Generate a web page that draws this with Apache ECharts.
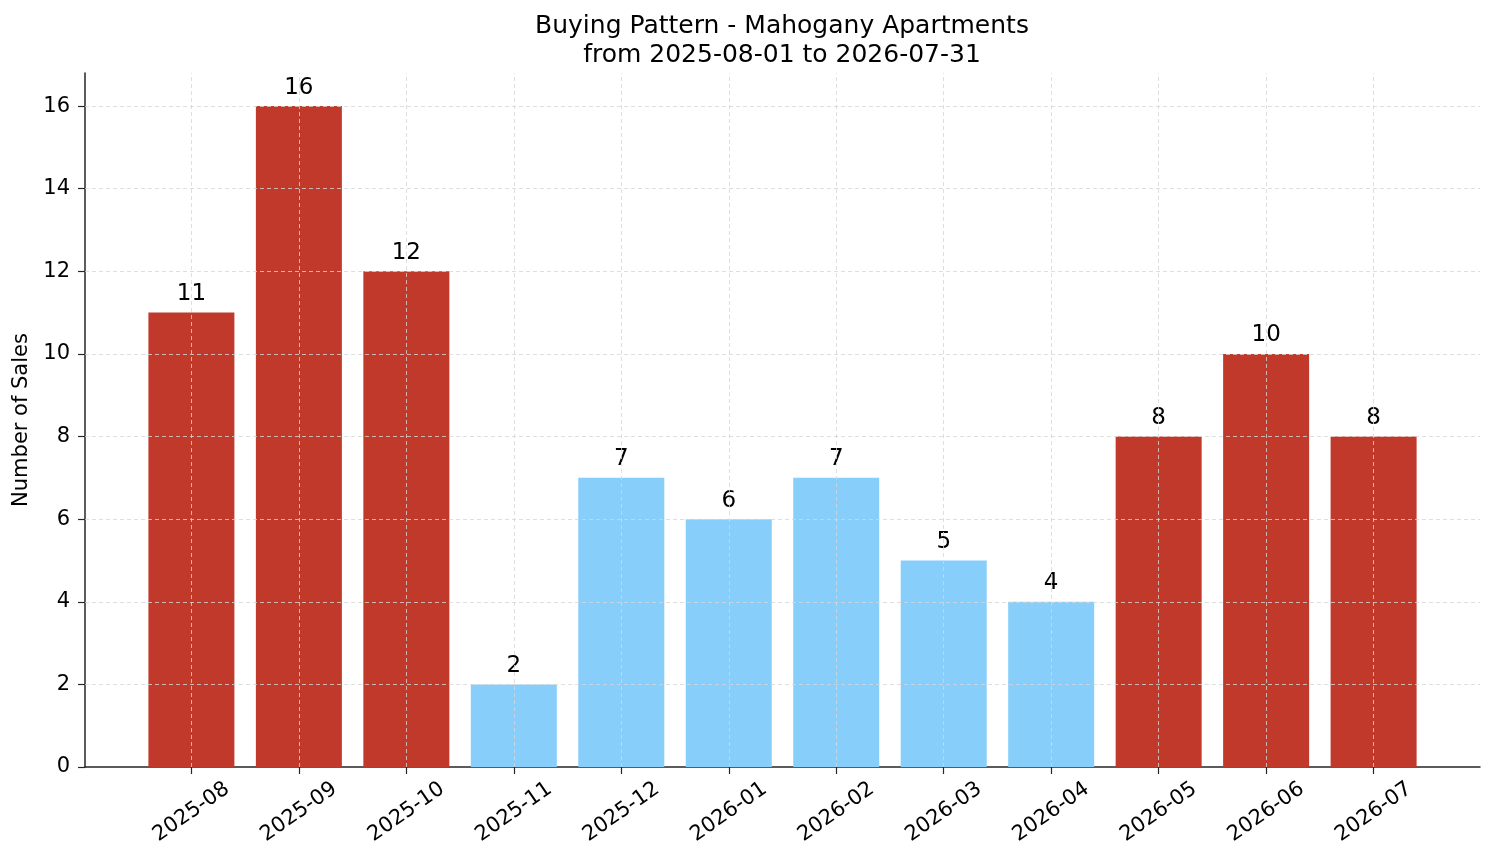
<!DOCTYPE html>
<html>
<head>
<meta charset="utf-8">
<script src="https://cdn.jsdelivr.net/npm/echarts@6/dist/echarts.min.js"></script>
<style>
  html, body { margin: 0; padding: 0; background: #fff; }
  #main { width: 1494px; height: 863px; }
</style>
</head>
<body>
<div id="main"></div>
<script>
var months = ['2025-08', '2025-09', '2025-10', '2025-11', '2025-12', '2026-01',
              '2026-02', '2026-03', '2026-04', '2026-05', '2026-06', '2026-07'];
var sales = [11, 16, 12, 2, 7, 6, 7, 5, 4, 8, 10, 8];
var yTicks = [0, 2, 4, 6, 8, 10, 12, 14, 16];

var RED = '#c0392b';
var BLUE = '#87cefa';
var FONT = 'DejaVu Sans';
var AXIS = '#262626';

var idx = months.map(function (m, i) { return i; });

var barData = sales.map(function (v, i) {
    return {
        value: [i, v],
        itemStyle: { color: v >= 8 ? RED : BLUE }
    };
});

var myChart = echarts.init(document.getElementById('main'));
var option = {
    animation: false,
    backgroundColor: '#fff',
    title: {
        text: 'Buying Pattern - Mahogany Apartments\nfrom 2025-08-01 to 2026-07-31',
        left: 777,
        textAlign: 'center',
        top: 7,
        textStyle: { fontFamily: FONT, fontSize: 25, fontWeight: 'normal', color: '#000', lineHeight: 29 }
    },
    grid: { left: 85, right: 14, top: 73, bottom: 96 },
    xAxis: {
        type: 'value',
        min: -0.99,
        max: 11.99,
        axisLine: { show: true, lineStyle: { color: AXIS, width: 1.5 } },
        axisTick: { show: true, customValues: idx, length: 7, lineStyle: { color: AXIS, width: 1.2 } },
        axisLabel: {
            customValues: idx,
            rotate: 35,
            align: 'center',
            verticalAlign: 'middle',
            fontFamily: FONT, fontSize: 21, color: '#000', margin: 45,
            formatter: function (v) { return months[Math.round(v)]; }
        },
        splitLine: { show: false }
    },
    yAxis: {
        type: 'value',
        min: 0,
        max: 16.8,
        name: 'Number of Sales',
        nameLocation: 'middle',
        nameGap: 52,
        nameTextStyle: { fontFamily: FONT, fontSize: 21, color: '#000' },
        axisLine: { show: true, onZero: false, lineStyle: { color: AXIS, width: 1.5 } },
        axisTick: { show: true, customValues: yTicks, length: 7, lineStyle: { color: AXIS, width: 1.2 } },
        axisLabel: { customValues: yTicks, fontFamily: FONT, fontSize: 21, color: '#000', margin: 15 },
        splitLine: { show: false }
    },
    series: [{
        type: 'bar',
        data: barData,
        barWidth: 86,
        label: {
            show: true,
            position: 'top',
            distance: 7,
            fontFamily: FONT, fontSize: 23, color: '#000',
            formatter: function (p) { return p.value[1]; }
        },
        markLine: {
            silent: true,
            symbol: 'none',
            label: { show: false },
            lineStyle: { color: '#d6d6d6', type: [4, 3], width: 0.8 },
            data: idx.map(function (i) { return { xAxis: i }; })
                .concat(yTicks.slice(1).map(function (t) { return { yAxis: t }; }))
        }
    }]
};
myChart.setOption(option);
</script>
</body>
</html>
